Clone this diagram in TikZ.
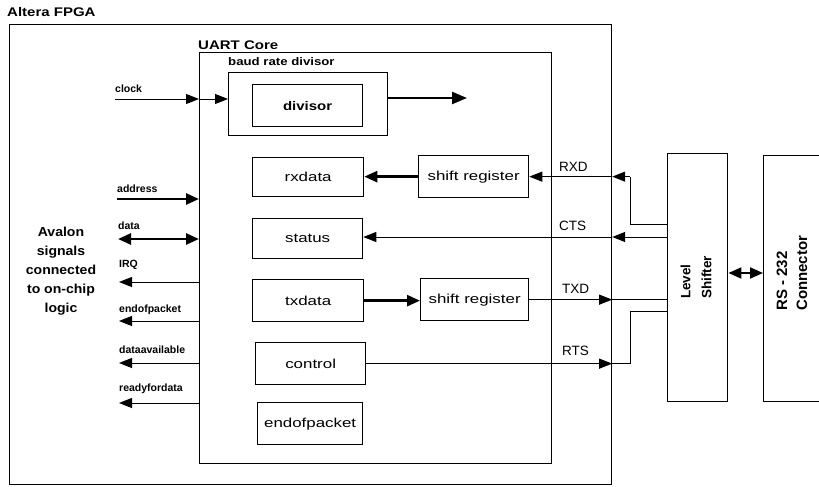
\documentclass[tikz,border=0pt]{standalone}
\usepackage{fontspec}
\setmainfont{Liberation Sans}
\newfontfamily\boxfont[FakeStretch=1.3]{Liberation Sans}
\newfontfamily\headfont[FakeStretch=1.2]{Liberation Sans}
\newfontfamily\avfont[FakeStretch=1.08]{Liberation Sans}
\usetikzlibrary{arrows.meta}
\begin{document}
\begin{tikzpicture}[x=1pt,y=-1pt,
  blk/.style={draw,line width=1.3pt,anchor=north west,inner sep=0pt,
    font=\boxfont\fontsize{13}{15}\selectfont},
  frame/.style={draw,line width=1.2pt,anchor=north west,inner sep=0pt},
  thinarr/.style={line width=1pt,-{Triangle[length=13pt,width=10pt]}},
  thickarr/.style={line width=2.6pt,-{Triangle[length=13pt,width=11pt]}},
  thickdbl/.style={line width=2.6pt,{Triangle[length=13pt,width=11pt]}-{Triangle[length=13pt,width=11pt]}},
  sig/.style={font=\bfseries\fontsize{10.5}{12}\selectfont,anchor=west,inner sep=0pt},
  line/.style={font=\fontsize{13.5}{15}\selectfont,anchor=west,inner sep=0pt},
  plain/.style={line width=1pt}]
\useasboundingbox (0,0) rectangle (819,487);
% frames
\node[frame,minimum width=602pt,minimum height=460pt] (fpga) at (9,24) {};
\node[anchor=west,inner sep=0pt,font=\headfont\bfseries\fontsize{12.5}{14}\selectfont] (fpgalbl) at (7,12) {Altera FPGA};
\node[frame,minimum width=352pt,minimum height=411pt] (uart) at (199,52) {};
\node[anchor=west,inner sep=0pt,font=\headfont\bfseries\fontsize{12.5}{14}\selectfont] (uartlbl) at (198,45) {UART Core};
\node[frame,minimum width=159pt,minimum height=63pt] (baud) at (228,72) {};
\node[anchor=west,inner sep=0pt,font=\headfont\bfseries\fontsize{11}{13}\selectfont] (baudlbl) at (228,62) {baud rate divisor};
% registers
\node[blk,minimum width=110pt,minimum height=42pt,font=\headfont\bfseries\fontsize{12.5}{14}\selectfont] (divisor) at (252,84) {divisor};
\node[blk,minimum width=111pt,minimum height=39pt] (rxdata) at (252,157) {rxdata};
\node[blk,minimum width=110pt,minimum height=40pt] (status) at (252,218) {status};
\node[blk,minimum width=111pt,minimum height=42pt] (txdata) at (252,279) {txdata};
\node[blk,minimum width=110pt,minimum height=42pt] (control) at (255,342) {control};
\node[blk,minimum width=105pt,minimum height=42pt] (eop) at (257,402) {endofpacket};
\node[blk,minimum width=110pt,minimum height=42pt] (srx) at (418,155) {shift register};
\node[blk,minimum width=108pt,minimum height=42pt] (stx) at (420,278) {shift register};
% external blocks
\node[frame,line width=1.4pt,minimum width=60pt,minimum height=248pt] (level) at (667,153) {};
\node[rotate=90,anchor=west,align=left,inner sep=0pt,font=\bfseries\fontsize{13.5}{21}\selectfont] (leveltxt) at (696,299) {Level\\Shifter};
\node[frame,line width=1.4pt,minimum width=70pt,minimum height=246pt] (rs) at (763,155) {};
\node[rotate=90,anchor=west,align=left,inner sep=0pt,font=\bfseries\fontsize{15}{20}\selectfont] (rstxt) at (792,311) {RS - 232\\Connector};
\draw[thickdbl,line width=2pt] (level.east |- 0,273) -- (rs.west |- 0,273);
% Avalon text
\node[align=center,inner sep=0pt,font=\avfont\bfseries\fontsize{13}{19}\selectfont] (avalon) at (61,271) {Avalon\\signals\\connected\\to on-chip\\logic};
% left signals
\coordinate (clk) at (115,99);
\node[sig] (clklbl) at (115,89) {clock};
\draw[thinarr] (clk) -- (clk -| uart.west);
\draw[thinarr] (clk -| uart.west) -- (clk -| baud.west);
\coordinate (divout) at (467,98);
\draw[thickarr,line width=2.4pt,-{Triangle[length=15pt,width=12pt]}] (divout -| baud.east) -- (divout);
\coordinate (addr) at (117,199);
\node[sig] (addrlbl) at (117,189) {address};
\draw[thickarr] (addr) -- (addr -| uart.west);
\coordinate (data) at (118,239);
\node[sig] (datalbl) at (118,226) {data};
\draw[thickdbl] (data) -- (data -| uart.west);
\coordinate (irq) at (119,282);
\node[sig] (irqlbl) at (119,265) {IRQ};
\draw[thinarr] (irq -| uart.west) -- (irq);
\coordinate (eopl) at (119,321);
\node[sig] (eoplbl) at (119,310) {endofpacket};
\draw[thinarr] (eopl -| uart.west) -- (eopl);
\coordinate (dav) at (119,363);
\node[sig] (davlbl) at (119,350) {dataavailable};
\draw[thinarr] (dav -| uart.west) -- (dav);
\coordinate (rfd) at (119,403);
\node[sig] (rfdlbl) at (119,389) {readyfordata};
\draw[thinarr] (rfd -| uart.west) -- (rfd);
% internal data paths
\draw[thickarr] (srx.west) -- (srx.west -| rxdata.east);
\draw[thickarr] (txdata.east) -- (txdata.east -| stx.west);
% serial lines
\coordinate (rxin) at (630,224);
\draw[plain] (level.west |- rxin) -- (rxin) -- (rxin |- srx.east);
\draw[thinarr] (rxin |- srx.east) -- (fpga.east |- srx.east);
\draw[thinarr] (fpga.east |- srx.east) -- (srx.east);
\node[line] (rxdlbl) at (559,167) {RXD};
\coordinate (cts) at (667,237);
\draw[thinarr] (cts) -- (cts -| fpga.east);
\draw[thinarr] (cts -| fpga.east) -- (cts -| status.east);
\node[line] (ctslbl) at (559,226) {CTS};
\draw[thinarr] (stx.east) -- (stx.east -| fpga.east);
\draw[plain] (stx.east -| fpga.east) -- (stx.east -| level.west);
\node[line] (txdlbl) at (562,289) {TXD};
\coordinate (rtsout) at (630,311);
\draw[thinarr] (control.east) -- (control.east -| fpga.east);
\draw[plain] (control.east -| fpga.east) -- (control.east -| rtsout) -- (rtsout) -- (rtsout -| level.west);
\node[line] (rtslbl) at (562,351) {RTS};
\end{tikzpicture}
\end{document}
